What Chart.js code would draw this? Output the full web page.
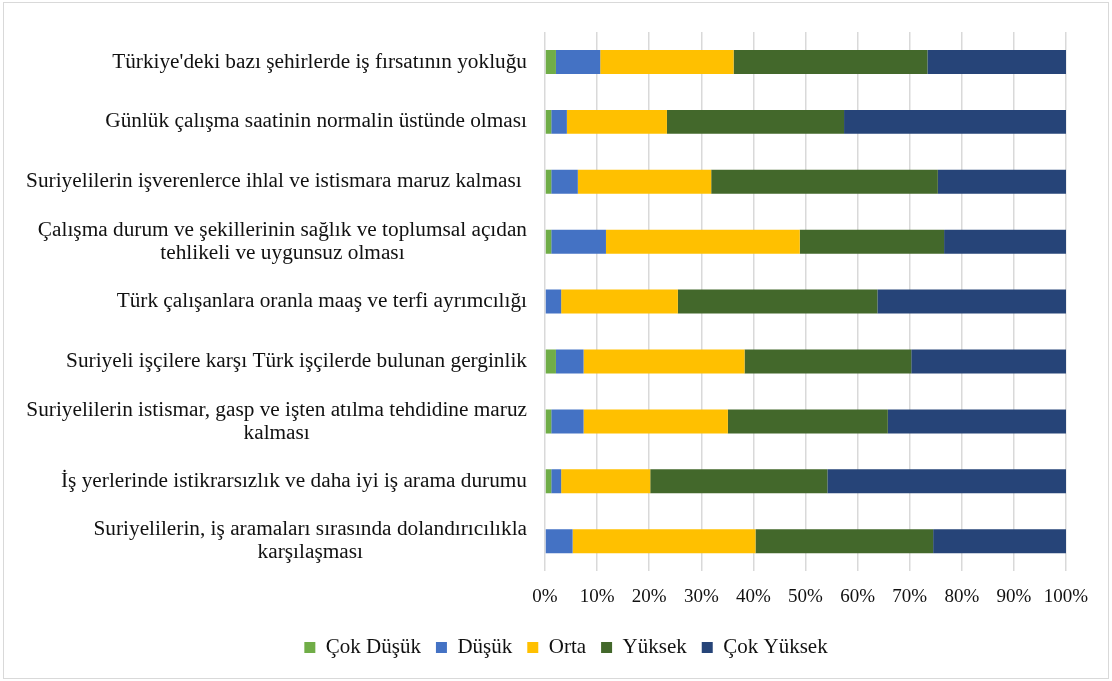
<!DOCTYPE html>
<html>
<head>
<meta charset="utf-8">
<script src="https://cdn.jsdelivr.net/npm/chart.js@4"></script>
<style>
    body { margin: 0; background: #fff; }
    #frame {
        position: absolute; left: 3px; top: 2px;
        width: 1104px; height: 675px;
        border: 1px solid #d9d9d9;
    }
</style>
</head>
<body>
<div id="frame"><canvas id="chart"></canvas></div>
<script>
const categories = [
    "Türkiye'deki bazı şehirlerde iş fırsatının yokluğu",
    "Günlük çalışma saatinin normalin üstünde olması",
    "Suriyelilerin işverenlerce ihlal ve istismara maruz kalması ",
    ["Çalışma durum ve şekillerinin sağlık ve toplumsal açıdan", "tehlikeli ve uygunsuz olması"],
    "Türk çalışanlara oranla maaş ve terfi ayrımcılığı",
    "Suriyeli işçilere karşı Türk işçilerde bulunan gerginlik",
    ["Suriyelilerin istismar, gasp ve işten atılma tehdidine maruz", "kalması"],
    "İş yerlerinde istikrarsızlık ve daha iyi iş arama durumu",
    ["Suriyelilerin, iş aramaları sırasında dolandırıcılıkla", "karşılaşması"]
];

// percentages
const cokDusuk  = [2.1, 1.2, 1.2, 1.2, 0.0, 2.1, 1.2, 1.2, 0.0];
const dusuk     = [8.5, 3.0, 5.1, 10.5, 3.1, 5.3, 6.2, 1.9, 5.3];
const orta      = [25.6, 19.2, 25.6, 37.2, 22.4, 30.9, 27.7, 17.1, 35.1];
const yuksek    = [37.2, 34.0, 43.5, 27.7, 38.3, 32.0, 30.7, 34.0, 34.1];
const cokYuksek = [26.6, 42.6, 24.6, 23.4, 36.2, 29.7, 34.2, 45.8, 25.5];

const xTicks = [0, 10, 20, 30, 40, 50, 60, 70, 80, 90, 100];

const FONT = "'Liberation Serif', 'Times New Roman', serif";
const TEXT = "#111111";

// Excel-like label drawing: lines centered on each other, block right-aligned
const yLabelPlugin = {
    id: 'yLabels',
    afterDraw(chart) {
        const scale = chart.scales.y;
        const ctx = chart.ctx;
        ctx.save();
        ctx.font = "21.3px " + FONT;
        ctx.fillStyle = TEXT;
        ctx.textAlign = 'center';
        ctx.textBaseline = 'middle';
        const lineH = 23;
        chart.data.labels.forEach((lab, i) => {
            const lines = Array.isArray(lab) ? lab : [lab];
            const w = Math.max(...lines.map(l => ctx.measureText(l).width));
            const cx = scale.right - 18 - w / 2;
            const y = scale.getPixelForTick(i);
            lines.forEach((l, j) => {
                ctx.fillText(l, cx, y + (j - (lines.length - 1) / 2) * lineH);
            });
        });
        ctx.restore();
    }
};

const ctx = document.getElementById('chart').getContext('2d');
new Chart(ctx, {
    type: 'bar',
    data: {
        labels: categories,
        datasets: [
            { label: 'Çok Düşük', data: cokDusuk, backgroundColor: '#70ad47' },
            { label: 'Düşük', data: dusuk, backgroundColor: '#4472c4' },
            { label: 'Orta', data: orta, backgroundColor: '#ffc000' },
            { label: 'Yüksek', data: yuksek, backgroundColor: '#43682b' },
            { label: 'Çok Yüksek', data: cokYuksek, backgroundColor: '#264478' }
        ]
    },
    options: {
        indexAxis: 'y',
        responsive: true,
        maintainAspectRatio: false,
        animation: false,
        datasets: {
            bar: { barPercentage: 0.4, categoryPercentage: 1.0 }
        },
        // left padding only moves the legend's centre; labels are drawn by the plugin
        layout: { padding: { top: 29, right: 42, left: 62, bottom: 10 } },
        scales: {
            x: {
                stacked: true,
                min: 0,
                max: 100,
                afterBuildTicks: (scale) => { scale.ticks = xTicks.map(v => ({ value: v })); },
                ticks: {
                    callback: (v) => v + '%',
                    font: { family: FONT, size: 19 },
                    color: TEXT,
                    padding: 14
                },
                grid: { color: '#d9d9d9', lineWidth: 1.5, drawTicks: false },
                border: { display: false }
            },
            y: {
                stacked: true,
                afterFit: (scale) => { scale.width = 479; },
                ticks: { display: false },
                grid: { display: false },
                border: { display: false }
            }
        },
        plugins: {
            legend: {
                position: 'bottom',
                labels: {
                    boxWidth: 11,
                    boxHeight: 11,
                    padding: 15,
                    color: TEXT,
                    font: { family: FONT, size: 21 }
                }
            },
            tooltip: { enabled: false }
        }
    },
    plugins: [yLabelPlugin]
});
</script>
</body>
</html>
